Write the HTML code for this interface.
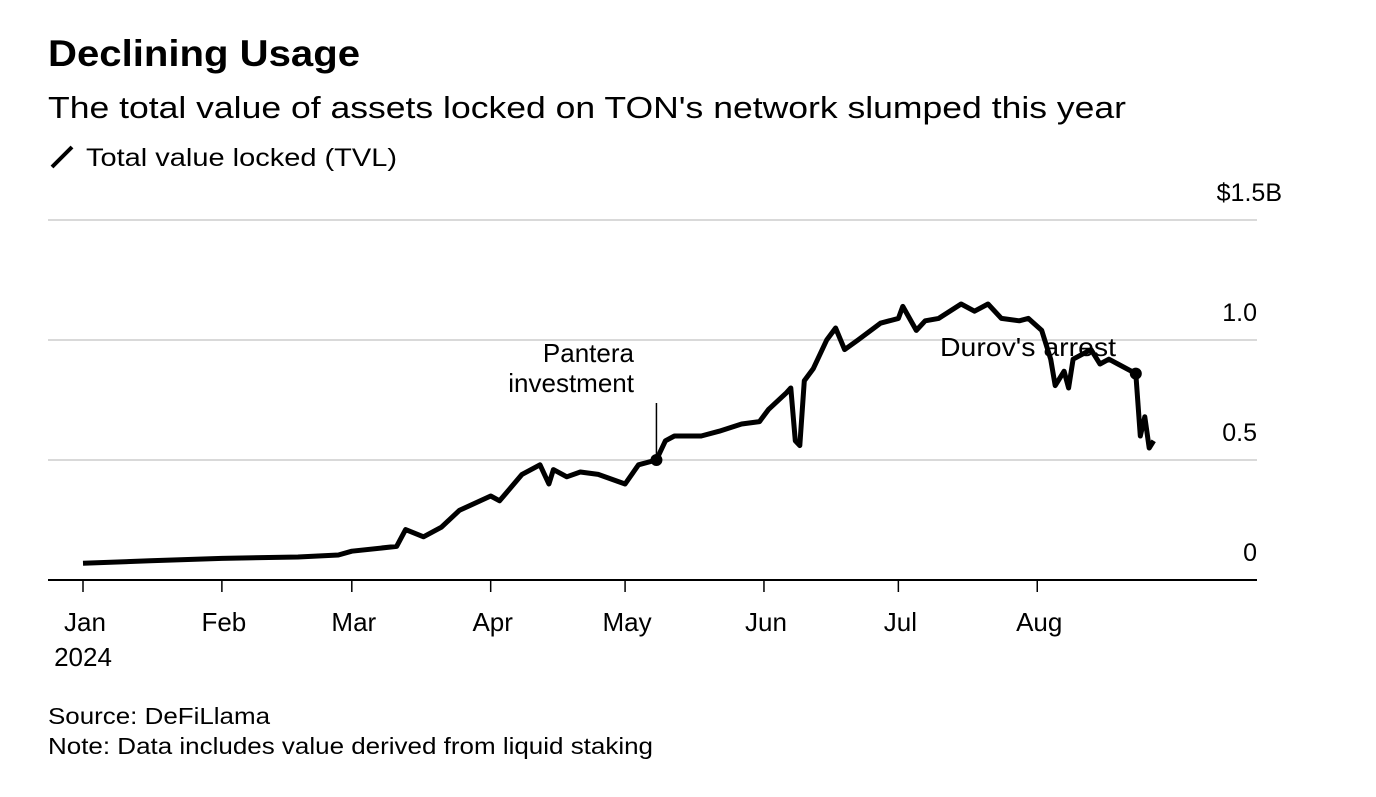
<!DOCTYPE html>
<html><head><meta charset="utf-8"><style>
body{margin:0;background:#fff;font-family:"Liberation Sans",sans-serif;color:#000}
svg text{font-family:"Liberation Sans",sans-serif}
</style></head><body>
<svg width="1376" height="792">
<text x="48" y="66" font-size="37" font-weight="bold" textLength="312" lengthAdjust="spacingAndGlyphs">Declining Usage</text>
<text x="48" y="118" font-size="31" textLength="1078" lengthAdjust="spacingAndGlyphs">The total value of assets locked on TON's network slumped this year</text>
<line x1="52" y1="167" x2="72" y2="147" stroke="#000" stroke-width="4"/>
<text x="86" y="166" font-size="25" textLength="311" lengthAdjust="spacingAndGlyphs">Total value locked (TVL)</text>
<g id="grid"></g><g id="xaxis"></g>
<path id="line" fill="none" stroke="#000" stroke-width="5" stroke-linejoin="round"/>
<g id="ann"></g>
<text x="48" y="724" font-size="23" textLength="222" lengthAdjust="spacingAndGlyphs">Source: DeFiLlama</text>
<text x="48" y="754" font-size="23" textLength="605" lengthAdjust="spacingAndGlyphs">Note: Data includes value derived from liquid staking</text>
</svg>
<script>
const days=[0,15,31,48,57,60,70,72,76,80,84,91,93,98,102,104,105,108,111,115,121,124,128,130,132,138,142,147,151,153,157,158,159,160,161,163,166,168,170,173,178,182,183,186,188,191,196,199,202,205,209,211,214,216,217,219,220,221,225,227,229,231,235,236,237,238,239];
const tvl=[.07,.08,.09,.096,.104,.12,.14,.21,.18,.22,.29,.35,.33,.44,.48,.40,.46,.43,.45,.44,.40,.48,.5,.58,.6,.6,.62,.65,.66,.71,.78,.8,.58,.56,.83,.88,1.0,1.05,.96,1.0,1.07,1.09,1.14,1.04,1.08,1.09,1.15,1.12,1.15,1.09,1.08,1.09,1.04,.92,.81,.87,.8,.92,.96,.9,.92,.9,.86,.6,.68,.55,.58];
const yTicks=[0,0.5,1.0,1.5];
const yLabels=["0","0.5","1.0","$1.5B"];
const monthDays=[0,31,60,91,121,152,182,213];
const monthLabels=["Jan","Feb","Mar","Apr","May","Jun","Jul","Aug"];
const events=[{d:128,v:0.5,label:["Pantera","investment"]},{d:235,v:0.86,label:["Durov's arrest"]}];
const X=d=>83+d*4.48, Y=v=>580-240*v;
const NS="http://www.w3.org/2000/svg";
function mk(t,a,p){const e=document.createElementNS(NS,t);for(const k in a)e.setAttribute(k,a[k]);p.appendChild(e);return e;}
const g=document.getElementById('grid');
yTicks.forEach((v,i)=>{
 const l=mk('line',{x1:48,x2:1257,y1:Y(v),y2:Y(v),stroke:i==0?'#000':'#d9d9d9','stroke-width':2},g);
 
 
 const t=mk('text',{x:i==3?1282:1257,y:Y(v)-19,'font-size':25,'text-anchor':'end'},g);t.textContent=yLabels[i];
 
 
});
const xa=document.getElementById('xaxis');
monthDays.forEach((d,i)=>{
 const l=mk('line',{x1:X(d),x2:X(d),y1:580,y2:592,stroke:'#000','stroke-width':1.5},xa);
 
 
 const t=mk('text',{x:X(d)+2,y:631,'font-size':26,'text-anchor':'middle'},xa);t.textContent=monthLabels[i];
 
 
});
const yr=mk('text',{x:X(0),y:666,'font-size':26,'text-anchor':'middle'},xa);yr.textContent="2024";


document.getElementById('line').setAttribute('d',days.map((d,i)=>(i?'L':'M')+X(d).toFixed(1)+','+Y(tvl[i]).toFixed(1)).join(''));
const an=document.getElementById('ann');
const e0=events[0];
mk('line',{x1:X(e0.d),x2:X(e0.d),y1:403,y2:Y(e0.v),stroke:'#000','stroke-width':1.5},an);
const c0=mk('circle',{cx:X(e0.d),cy:Y(e0.v),r:6,fill:'#000'},an);


e0.label.forEach((s,i)=>{const t=mk('text',{x:634,y:362+i*30,'font-size':26,'text-anchor':'end'},an);t.textContent=s;
 
 });
const e1=events[1];
const c1=mk('circle',{cx:X(e1.d),cy:Y(e1.v),r:6,fill:'#000'},an);


const t1=mk('text',{x:1116,y:356,'font-size':26,'text-anchor':'end',textLength:176,lengthAdjust:'spacingAndGlyphs'},an);t1.textContent=e1.label[0];


</script>
</body></html>
